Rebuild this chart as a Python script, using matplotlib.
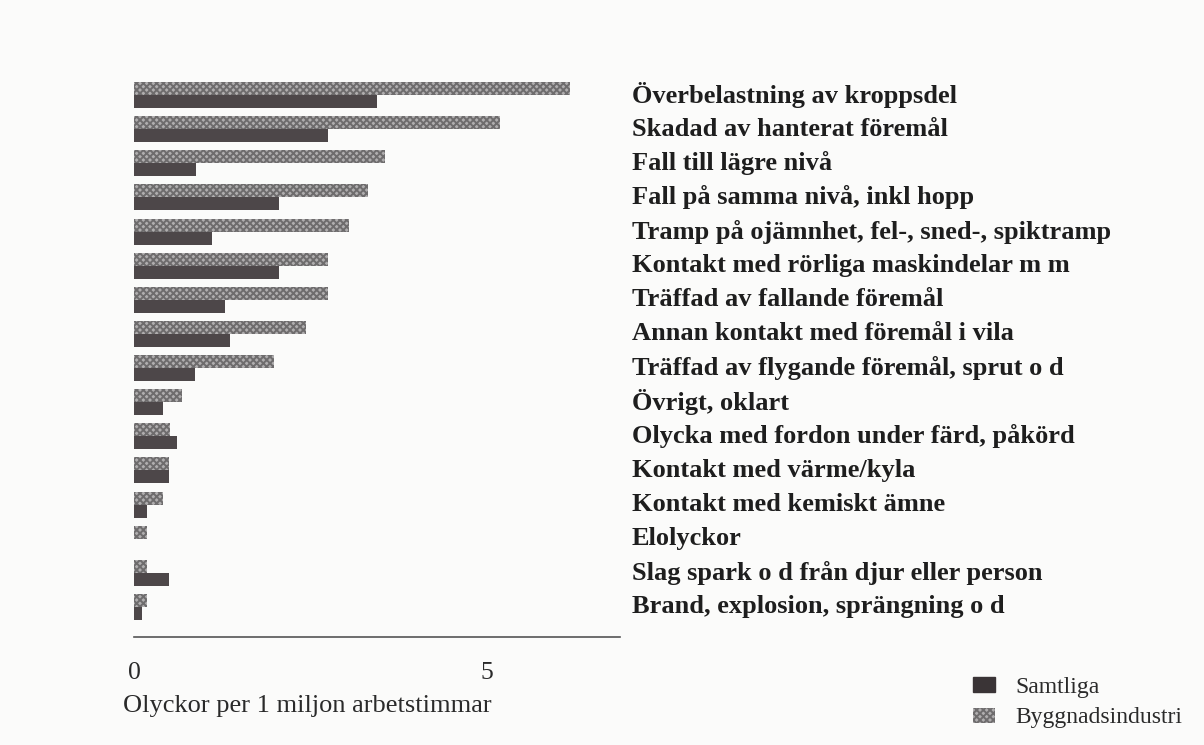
import numpy as np
import matplotlib.pyplot as plt
from matplotlib import transforms

### data: accidents per 1 million working hours
kategorier = ['Överbelastning av kroppsdel',
              'Skadad av hanterat föremål',
              'Fall till lägre nivå',
              'Fall på samma nivå, inkl hopp',
              'Tramp på ojämnhet, fel-, sned-, spiktramp',
              'Kontakt med rörliga maskindelar m m',
              'Träffad av fallande föremål',
              'Annan kontakt med föremål i vila',
              'Träffad av flygande föremål, sprut o d',
              'Övrigt, oklart',
              'Olycka med fordon under färd, påkörd',
              'Kontakt med värme/kyla',
              'Kontakt med kemiskt ämne',
              'Elolyckor',
              'Slag spark o d från djur eller person',
              'Brand, explosion, sprängning o d']
samtliga = [3.44, 2.75, 0.88, 2.06, 1.10, 2.06, 1.29, 1.36, 0.86, 0.41, 0.61, 0.49, 0.18, 0.0, 0.50, 0.12]
bygg = [6.18, 5.18, 3.56, 3.31, 3.05, 2.75, 2.75, 2.44, 1.98, 0.68, 0.51, 0.50, 0.41, 0.18, 0.18, 0.18]
xticks = [0, 5]

plt.rcParams['font.family'] = ['Liberation Serif', 'DejaVu Serif']
plt.rcParams['hatch.linewidth'] = 1.4

fig = plt.figure(figsize=(12.04, 7.45), dpi=100)
fig.patch.set_facecolor('#fbfbfa')
ax = fig.add_axes([134/1204, 1-637/745, (620-134)/1204, (637-75)/745])
ax.set_facecolor('none')

y = np.arange(len(kategorier))
h = 0.38
ax.barh(y - h/2, bygg, height=h, color='#b0aeaf', edgecolor='#6e6c6d', hatch='xxxxx', linewidth=0)
ax.barh(y + h/2, samtliga, height=h, color='#4d4749', linewidth=0)

ax.set_xlim(0, (620-134)/70.6)
ax.set_ylim(15 + (637-607)/34.1, -(95-75)/34.1)
ax.set_yticks([])
ax.set_xticks(xticks)
ax.set_xticklabels([str(t) for t in xticks], fontsize=18.5, color='#2a2a2a')
ax.tick_params(axis='x', length=0, pad=18)
for s in ['top', 'right', 'left']:
    ax.spines[s].set_visible(False)
ax.spines['bottom'].set_color('#555555')
ax.spines['bottom'].set_linewidth(1.2)

trans = transforms.blended_transform_factory(fig.transFigure, ax.transData)
for i, k in enumerate(kategorier):
    ax.text(632/1204, i, k, transform=trans, fontsize=19, fontweight='bold',
            va='center', ha='left', color='#1e1e1e', clip_on=False)

fig.text(123/1204, 1-706/745, 'Olyckor per 1 miljon arbetstimmar', fontsize=19,
         va='center', ha='left', color='#2a2a2a')

### legend drawn by hand in the lower right corner
fig.patches.append(plt.Rectangle((973/1204, 1-692/745), 22/1204, 15/745,
                                 transform=fig.transFigure, color='#3a3436'))
fig.patches.append(plt.Rectangle((973/1204, 1-723/745), 22/1204, 15/745,
                                 transform=fig.transFigure, facecolor='#b0aeaf',
                                 edgecolor='#6e6c6d', hatch='xxxxx', linewidth=0))
fig.text(1015/1204, 1-687/745, 'Samtliga', fontsize=17, va='center', ha='left', color='#2a2a2a')
fig.text(1015/1204, 1-717/745, 'Byggnadsindustri', fontsize=17, va='center', ha='left', color='#2a2a2a')

fig.savefig('out.png', dpi=100, facecolor=fig.get_facecolor())
